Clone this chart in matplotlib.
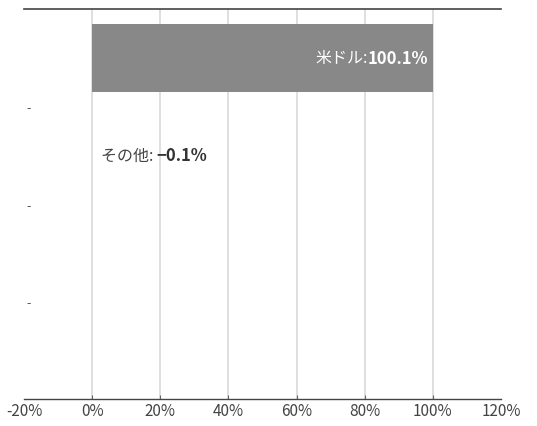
import numpy as np
import matplotlib
matplotlib.use("Agg")
import matplotlib.pyplot as plt

plt.rcParams['font.family'] = ['Noto Sans CJK JP', 'DejaVu Sans']

# data
categories = ['米ドル', 'その他', '', '']
values = [100.1, -0.1, 0, 0]
value_text = ['100.1%', '−0.1%']
xticks = [-20, 0, 20, 40, 60, 80, 100, 120]

fig = plt.figure(figsize=(5.37, 4.27), dpi=100)
ax = fig.add_axes([24/537, 1-400/427, (501-24)/537, 390/427])

ypos = np.arange(len(categories))
ax.barh(ypos, values, height=0.7, color='#888888', zorder=3)

ax.set_xlim(-20, 120)
ax.set_ylim(3.5, -0.5)

# grid lines
for x in xticks[1:-1]:
    ax.axvline(x, color='#d9d9d9', lw=1.2, zorder=1)

ax.set_xticks(xticks)
ax.set_xticklabels([f'{x}%' for x in xticks], fontsize=11, color='#444444')
ax.tick_params(axis='x', direction='in', length=3, color='#666666', pad=2)
xt = ax.xaxis.get_major_ticks()
xt[0].tick1line.set_visible(False)
xt[-1].tick1line.set_visible(False)

# dash labels between rows
ax.set_yticks([0.5, 1.5, 2.5])
ax.set_yticklabels(['-', '-', '-'], fontsize=9, color='#555555')
ax.tick_params(axis='y', length=0, pad=-5)

for s in ['left', 'right']:
    ax.spines[s].set_visible(False)
ax.spines['top'].set_color('#444444')
ax.spines['bottom'].set_color('#444444')
ax.spines['top'].set_linewidth(1.2)
ax.spines['bottom'].set_linewidth(1.0)

# value labels: name normal, number bold
t1 = ax.text(values[0] - 1.5, ypos[0], value_text[0], ha='right', va='center',
             fontsize=12, color='white', weight='bold', zorder=4)
ax.annotate(categories[0] + ':', xy=(0, 0.5), xycoords=t1, ha='right', va='center',
            fontsize=11.5, color='white', zorder=4)

t2 = ax.text(2.5, ypos[1], categories[1] + ': ', ha='left', va='center',
             fontsize=11.5, color='#444444', zorder=4)
ax.annotate(value_text[1], xy=(1, 0.5), xycoords=t2, ha='left', va='center',
            fontsize=12, color='#333333', weight='bold', zorder=4)

fig.savefig('out.png', dpi=100)
